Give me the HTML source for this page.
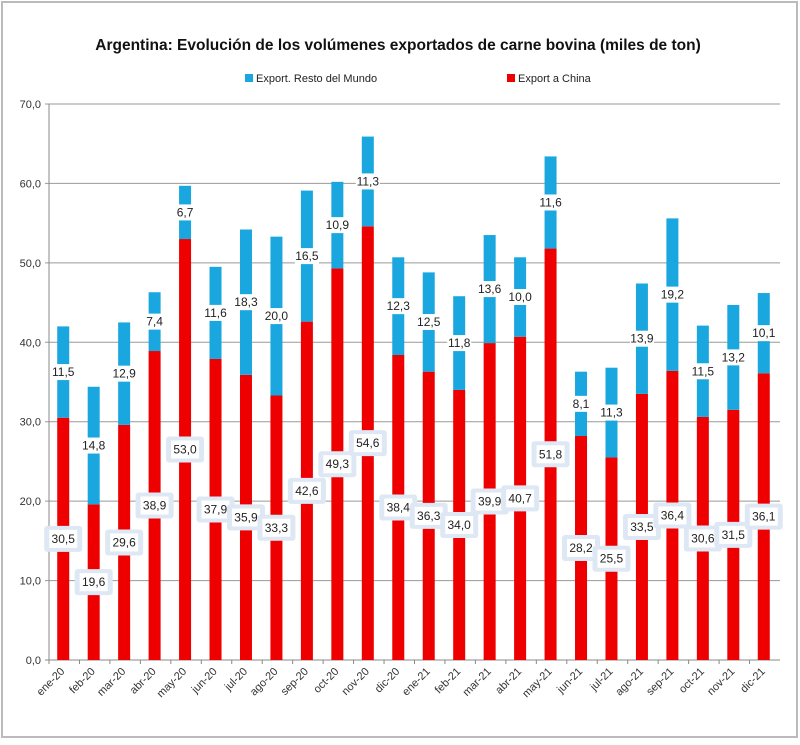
<!DOCTYPE html>
<html><head><meta charset="utf-8"><style>
body{margin:0;background:#fff;width:800px;height:740px;overflow:hidden;font-family:"Liberation Sans",sans-serif}
svg text{font-family:"Liberation Sans",sans-serif}
</style></head><body>
<svg id="chart" width="800" height="740">
<rect x="2" y="2" width="795" height="735" fill="#fff" stroke="#bbb" stroke-width="2"/>
<text x="398" y="50" text-anchor="middle" font-size="15.5" font-weight="bold" fill="#111">Argentina: Evolución de los volúmenes exportados de carne bovina (miles de ton)</text>
<g>
<g><rect x="245" y="74" width="8" height="8" fill="#1aa7e0"/><text x="256" y="82" font-size="11" fill="#222">Export. Resto del Mundo</text></g>
<g><rect x="507" y="74" width="8" height="8" fill="#ee0000"/><text x="518" y="82" font-size="11" fill="#222">Export a China</text></g>
</g>
<g id="grid"></g><g id="bars"></g><g id="labels"></g>
</svg>
<script>
const categories=["ene-20","feb-20","mar-20","abr-20","may-20","jun-20","jul-20","ago-20","sep-20","oct-20","nov-20","dic-20","ene-21","feb-21","mar-21","abr-21","may-21","jun-21","jul-21","ago-21","sep-21","oct-21","nov-21","dic-21"];
const china=[30.5,19.6,29.6,38.9,53.0,37.9,35.9,33.3,42.6,49.3,54.6,38.4,36.3,34.0,39.9,40.7,51.8,28.2,25.5,33.5,36.4,30.6,31.5,36.1];
const resto=[11.5,14.8,12.9,7.4,6.7,11.6,18.3,20.0,16.5,10.9,11.3,12.3,12.5,11.8,13.6,10.0,11.6,8.1,11.3,13.9,19.2,11.5,13.2,10.1];
const yTicks=[0,10,20,30,40,50,60,70];
const NS="http://www.w3.org/2000/svg";
const x0=49,x1=780,yZero=660,yTop=104,yMax=70;
const step=(x1-x0)/categories.length;
const xC=i=>x0+step*(i+0.5)-1;
const y=v=>yZero-(v/yMax)*(yZero-yTop);
const fmt=v=>v.toFixed(1).replace('.',',');
function mk(tag,attrs,parent){const e=document.createElementNS(NS,tag);for(const k in attrs)e.setAttribute(k,attrs[k]);parent.appendChild(e);return e;}
const grid=document.getElementById('grid'),bars=document.getElementById('bars'),labels=document.getElementById('labels');
yTicks.forEach(t=>{
 const l=mk('line',{x1:x0-4,x2:x1,y1:y(t),y2:y(t),stroke:t===0?'#888':'#999','stroke-width':1},grid);
 
 
 const tx=mk('text',{x:x0-8,y:y(t)+4,'text-anchor':'end','font-size':11,fill:'#333'},grid);
 tx.textContent=fmt(t);
 
 
});
const ax=mk('line',{x1:x0,x2:x0,y1:yTop,y2:yZero,stroke:'#888'},grid);


categories.forEach((c,i)=>{
 const cx=xC(i),w=12;
 const tk=mk('line',{x1:x0+step*i,x2:x0+step*i,y1:yZero,y2:yZero+4,stroke:'#888'},grid);
 
 
 const r=mk('rect',{x:cx-w/2,y:y(china[i]),width:w,height:yZero-y(china[i]),fill:'#ee0000'},bars);
 
 
 const b=mk('rect',{x:cx-w/2,y:y(china[i]+resto[i]),width:w,height:y(china[i])-y(china[i]+resto[i]),fill:'#1aa7e0'},bars);
 
 
 const lx=mk('text',{x:cx+2,y:yZero+12,'text-anchor':'end','font-size':11,fill:'#333',transform:`rotate(-45 ${cx+2} ${yZero+12})`},grid);
 lx.textContent=c;
 
 
 const cy=y(china[i]/2);
 const g1=mk('g',{},labels);
 
 
 mk('rect',{x:cx-19,y:cy-13,width:38,height:26,fill:'#dde8f4',rx:3},g1);
 mk('rect',{x:cx-14,y:cy-9,width:28,height:18,fill:'#fff'},g1);
 const t1=mk('text',{x:cx,y:cy+4,'text-anchor':'middle','font-size':12,fill:'#222'},g1);
 t1.textContent=fmt(china[i]);
 const ry=y(china[i]+resto[i]/2);
 const g2=mk('g',{},labels);
 
 
 mk('rect',{x:cx-12,y:ry-8,width:24,height:16,fill:'#fff'},g2);
 const t2=mk('text',{x:cx,y:ry+4,'text-anchor':'middle','font-size':12,fill:'#222'},g2);
 t2.textContent=fmt(resto[i]);
});
</script>
</body></html>
